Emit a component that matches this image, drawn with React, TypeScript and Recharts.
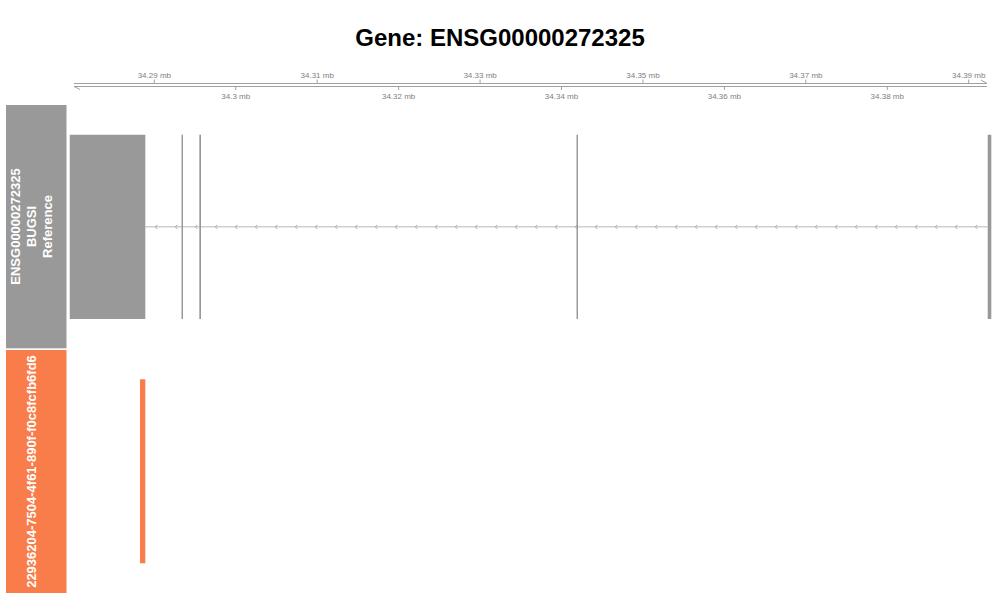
import React from 'react';
import { ComposedChart, XAxis, YAxis, ReferenceArea, ReferenceLine } from 'recharts';

const FONT = '"Liberation Sans", Arial, Helvetica, sans-serif';

const geneId = 'ENSG00000272325';
const geneTrackLines = ['ENSG00000272325', 'BUGSI', 'Reference'];
const readTrackName = '22936204-7504-4f61-890f-f0c8fcfb6fd6';

// genomic window shown (bp)
const viewStart = 34279400;
const viewEnd = 34392860;
const axisStart = 34280140;
const axisEnd = 34392240;
const axisTicks = [
  34290000, 34300000, 34310000, 34320000, 34330000, 34340000,
  34350000, 34360000, 34370000, 34380000, 34390000,
];

// reference transcript exons (minus strand)
const exonStarts = [34279612, 34293340, 34295526, 34341842, 34392333];
const exonEnds = [34288895, 34293524, 34295734, 34342026, 34392775];

// aligned read
const readStarts = [34288244];
const readEnds = [34288895];

const GRAY = '#999999';
const ORANGE = '#F87D4A';
const MARGIN = { top: 0, right: 8, bottom: 0, left: 68 };

const fmtMb = (v: number) => `${v / 1e6} mb`;

const IntronShape = (p: any) => {
  const { x1, x2, y1 } = p;
  const marks: React.ReactNode[] = [];
  for (let x = x1 + 10; x < x2 - 6; x += 20) {
    marks.push(
      <path key={x} d={`M${x + 2},${y1 - 2} L${x},${y1} L${x + 2},${y1 + 2}`} stroke="#a8a8a8" strokeWidth={1} fill="none" />
    );
  }
  return (
    <g>
      <line x1={x1} x2={x2} y1={y1} y2={y1} stroke="#cfcfcf" strokeWidth={1.5} />
      {marks}
    </g>
  );
};

const AxisLineShape = (upper: boolean) => (p: any) => {
  const { x1, x2, y1 } = p;
  const barb = upper
    ? `M${x2 - 6},${y1 - 3.5} L${x2},${y1}`
    : `M${x1},${y1} L${x1 + 6},${y1 + 3}`;
  return (
    <g>
      <line x1={x1} x2={x2} y1={y1} y2={y1} stroke="#a0a0a0" strokeWidth={1} />
      <path d={barb} stroke="#a0a0a0" strokeWidth={1} fill="none" />
    </g>
  );
};

const TickShape = (value: number, up: boolean) => (p: any) => {
  const x = p.x1;
  const top = Math.min(p.y1, p.y2);
  const bottom = Math.max(p.y1, p.y2);
  return up ? (
    <g>
      <line x1={x} x2={x} y1={top - 4} y2={top} stroke="#a0a0a0" strokeWidth={1} />
      <text x={x} y={top - 6} textAnchor="middle" fontSize={8} fill="#808080" fontFamily={FONT}>{fmtMb(value)}</text>
    </g>
  ) : (
    <g>
      <line x1={x} x2={x} y1={bottom} y2={bottom + 3.5} stroke="#a0a0a0" strokeWidth={1} />
      <text x={x} y={bottom + 12} textAnchor="middle" fontSize={8} fill="#808080" fontFamily={FONT}>{fmtMb(value)}</text>
    </g>
  );
};

const Axes = () => (
  <>
    <XAxis type="number" dataKey="x" domain={[viewStart, viewEnd]} allowDataOverflow hide />
    <YAxis type="number" domain={[0, 1]} allowDataOverflow hide />
  </>
);

const GenomeAxis = () => (
  <ComposedChart width={1000} height={45} data={[]} margin={{ ...MARGIN, top: 23.5, bottom: 18.5 }}>
    {Axes()}
    <ReferenceLine segment={[{ x: axisStart, y: 1 }, { x: axisEnd, y: 1 }]} ifOverflow="visible" shape={AxisLineShape(true)} />
    <ReferenceLine segment={[{ x: axisStart, y: 0 }, { x: axisEnd, y: 0 }]} ifOverflow="visible" shape={AxisLineShape(false)} />
    {axisTicks.map((t, i) => (
      <ReferenceLine key={t} x={t} ifOverflow="visible" shape={TickShape(t, i % 2 === 0)} />
    ))}
  </ComposedChart>
);

const GENE_MARGIN = { ...MARGIN, top: 29.7, bottom: 29 };

// intron backbone drawn underneath, exons in an overlaid chart on top
const GeneTrack = () => (
  <div style={{ position: 'relative', width: 1000, height: 243 }}>
    <div style={{ position: 'absolute', left: 0, top: 0 }}>
      <ComposedChart width={1000} height={243} data={[]} margin={GENE_MARGIN}>
        {Axes()}
        <ReferenceLine
          segment={[{ x: exonEnds[0], y: 0.5 }, { x: exonStarts[exonStarts.length - 1], y: 0.5 }]}
          ifOverflow="visible"
          shape={IntronShape}
        />
      </ComposedChart>
    </div>
    <div style={{ position: 'absolute', left: 0, top: 0 }}>
      <ComposedChart width={1000} height={243} data={[]} margin={GENE_MARGIN}>
        {Axes()}
        {exonStarts.map((s, i) => (
          <ReferenceArea key={s} x1={s} x2={exonEnds[i]} y1={0} y2={1} fill={GRAY} fillOpacity={1} stroke="none" ifOverflow="visible" />
        ))}
      </ComposedChart>
    </div>
  </div>
);

const ReadTrack = () => (
  <ComposedChart width={1000} height={243} data={[]} margin={{ ...MARGIN, top: 29.3, bottom: 29.7 }}>
    {Axes()}
    {readStarts.map((s, i) => (
      <ReferenceArea key={s} x1={s} x2={readEnds[i]} y1={0} y2={1} fill={ORANGE} fillOpacity={1} stroke="none" ifOverflow="visible" />
    ))}
  </ComposedChart>
);

export default function App() {
  return (
    <div style={{ position: 'absolute', left: 0, top: 0, width: 1000, height: 600, background: '#fff', fontFamily: FONT }}>
      <svg width={1000} height={600} style={{ position: 'absolute', left: 0, top: 0 }}>
        <text x={500} y={46} textAnchor="middle" fontSize={24} fontWeight="bold" fontFamily={FONT} fill="#000">
          {`Gene: ${geneId}`}
        </text>
        <rect x={6} y={105} width={60.5} height={243.3} fill={GRAY} />
        {geneTrackLines.map((t, i) => (
          <text key={t} transform={`translate(${15 + i * 16},226.5) rotate(-90)`} textAnchor="middle" dominantBaseline="central"
            fontSize={13} fontWeight="bold" fill="#fff" fontFamily={FONT}>{t}</text>
        ))}
        <rect x={6} y={350} width={60.5} height={243} fill={ORANGE} />
        <text transform="translate(31,471.5) rotate(-90)" textAnchor="middle" dominantBaseline="central"
          fontSize={13} fontWeight="bold" fill="#fff" fontFamily={FONT}>{readTrackName}</text>
      </svg>
      <div style={{ position: 'absolute', left: 0, top: 60 }}><GenomeAxis /></div>
      <div style={{ position: 'absolute', left: 0, top: 105 }}><GeneTrack /></div>
      <div style={{ position: 'absolute', left: 0, top: 350 }}><ReadTrack /></div>
    </div>
  );
}
